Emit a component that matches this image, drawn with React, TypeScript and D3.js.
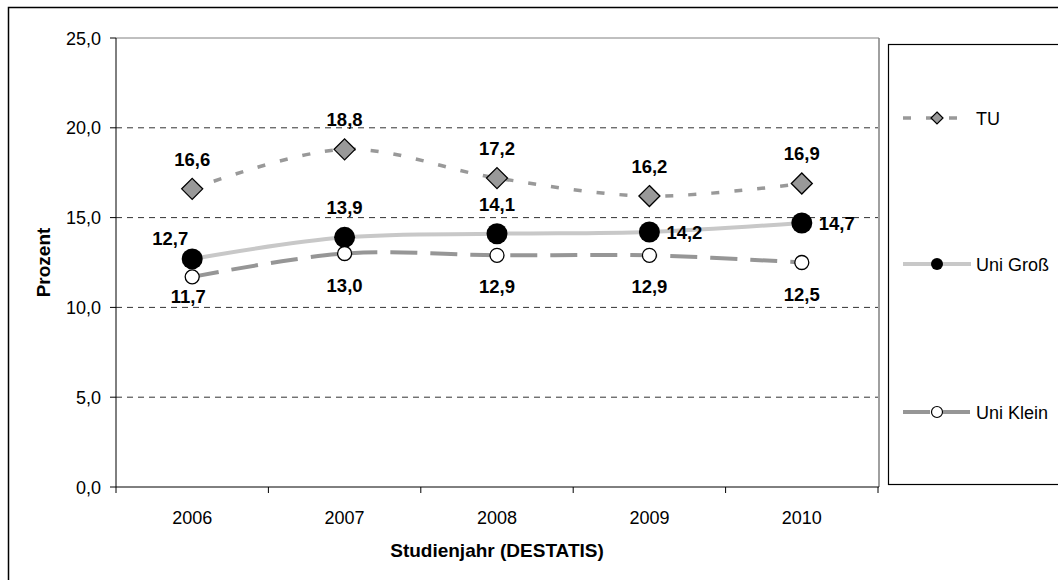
import React from "react";
import * as d3 from "d3";

const years = ["2006", "2007", "2008", "2009", "2010"];
const tuValues = [16.6, 18.8, 17.2, 16.2, 16.9];
const grossValues = [12.7, 13.9, 14.1, 14.2, 14.7];
const kleinValues = [11.7, 13.0, 12.9, 12.9, 12.5];
const yTicks = [0, 5, 10, 15, 20, 25];
const seriesNames = ["TU", "Uni Groß", "Uni Klein"];

// label placement names per point (layout, not data)
const tuPlace = ["above", "above", "above", "above", "above"];
const grossPlace = ["aboveLeft", "above", "above", "right", "right"];
const kleinPlace = ["belowNear", "below", "below", "below", "below"];

const W = 1058;
const H = 580;
const FONT = "'Liberation Sans', Arial, sans-serif";
const fmt = (v: number) => v.toFixed(1).replace(".", ",");

export default function App() {
  const x = d3.scaleBand<string>().domain(years).range([116, 878]);
  const y = d3.scaleLinear().domain([0, 25]).range([487, 38]);
  const cx = (yr: string) => (x(yr) as number) + x.bandwidth() / 2;

  const line = d3
    .line<number>()
    .x((_, i) => cx(years[i]))
    .y((v) => y(v))
    .curve(d3.curveCatmullRom.alpha(0.5));

  const labelProps = (place: string, px: number, py: number) => {
    switch (place) {
      case "above":
        return { x: px, y: py - 23, anchor: "middle" };
      case "aboveLeft":
        return { x: px - 4, y: py - 14, anchor: "end" };
      case "right":
        return { x: px + 17, y: py + 7, anchor: "start" };
      case "belowNear":
        return { x: px - 4, y: py + 26, anchor: "middle" };
      default:
        return { x: px, y: py + 38, anchor: "middle" };
    }
  };

  const renderLabels = (vals: number[], places: string[]) =>
    vals.map((v, i) => {
      const p = labelProps(places[i], cx(years[i]), y(v));
      return (
        <text
          key={i}
          x={p.x}
          y={p.y}
          textAnchor={p.anchor as any}
          fontSize={18.5}
          fontWeight="bold"
          fill="#000"
        >
          {fmt(v)}
        </text>
      );
    });

  const diamond = (px: number, py: number, r: number) =>
    `M${px},${py - r}L${px + r},${py}L${px},${py + r}L${px - r},${py}Z`;

  const legendY = [118, 264, 412];
  const lx0 = 903;
  const lx1 = 971;
  const lmx = 937;

  return (
    <svg
      width={W}
      height={H}
      style={{ position: "absolute", left: 0, top: 0, background: "#fff" }}
      fontFamily={FONT}
    >
      <rect x={0} y={0} width={W} height={H} fill="#fff" />
      <rect x={8.5} y={7.5} width={1060} height={600} fill="none" stroke="#000" strokeWidth={1.5} />

      {/* gridlines */}
      {yTicks
        .filter((t) => t > 0 && t < 25)
        .map((t) => (
          <line
            key={t}
            x1={116}
            x2={878}
            y1={y(t)}
            y2={y(t)}
            stroke="#333"
            strokeWidth={1}
            strokeDasharray="6,5"
          />
        ))}
      {/* plot border top & right */}
      <line x1={116} x2={879} y1={y(25)} y2={y(25)} stroke="#808080" strokeWidth={1} />
      <line x1={879} x2={879} y1={y(25)} y2={y(0)} stroke="#808080" strokeWidth={1.5} />

      {/* y axis */}
      <line x1={116} x2={116} y1={y(25)} y2={y(0)} stroke="#000" strokeWidth={1} />
      {yTicks.map((t) => (
        <g key={t}>
          <line x1={110} x2={116} y1={y(t)} y2={y(t)} stroke="#000" />
          <text x={101} y={y(t) + 6.5} textAnchor="end" fontSize={18} fill="#000">
            {fmt(t)}
          </text>
        </g>
      ))}
      {/* x axis */}
      <line x1={116} x2={879} y1={y(0)} y2={y(0)} stroke="#000" strokeWidth={1} />
      {years.concat([""]).map((yr, i) => {
        const xx = i < years.length ? (x(yr) as number) : 878;
        return <line key={"t" + i} x1={xx} x2={xx} y1={y(0)} y2={y(0) + 6} stroke="#000" />;
      })}
      {years.map((yr) => (
        <text key={yr} x={cx(yr)} y={524} textAnchor="middle" fontSize={18} fill="#000">
          {yr}
        </text>
      ))}
      <text x={497} y={557} textAnchor="middle" fontSize={19} fontWeight="bold">
        Studienjahr (DESTATIS)
      </text>
      <text
        transform={`translate(50,${(y(0) + y(25)) / 2}) rotate(-90)`}
        textAnchor="middle"
        fontSize={19}
        fontWeight="bold"
      >
        Prozent
      </text>

      {/* TU */}
      <path d={line(tuValues) || ""} fill="none" stroke="#999" strokeWidth={3.5} strokeDasharray="8,15" />
      {tuValues.map((v, i) => (
        <path key={i} d={diamond(cx(years[i]), y(v), 10.5)} fill="#999" stroke="#000" strokeWidth={1.3} />
      ))}
      {/* Uni Groß */}
      <path d={line(grossValues) || ""} fill="none" stroke="#c8c8c8" strokeWidth={4} />
      {grossValues.map((v, i) => (
        <circle key={i} cx={cx(years[i])} cy={y(v)} r={10.5} fill="#000" />
      ))}
      {/* Uni Klein */}
      <path d={line(kleinValues) || ""} fill="none" stroke="#969696" strokeWidth={4} strokeDasharray="27,13" />
      {kleinValues.map((v, i) => (
        <circle key={i} cx={cx(years[i])} cy={y(v)} r={7} fill="#fff" stroke="#000" strokeWidth={1.3} />
      ))}

      {renderLabels(tuValues, tuPlace)}
      {renderLabels(grossValues, grossPlace)}
      {renderLabels(kleinValues, kleinPlace)}

      {/* legend */}
      <rect x={888.5} y={44.5} width={180} height={440} fill="#fff" stroke="#000" strokeWidth={1.2} />
      <line x1={lx0} x2={lx1} y1={legendY[0]} y2={legendY[0]} stroke="#999" strokeWidth={3.5} strokeDasharray="8,15" />
      <path d={diamond(lmx, legendY[0], 6)} fill="#999" stroke="#000" strokeWidth={1.2} />
      <line x1={lx0} x2={lx1} y1={legendY[1]} y2={legendY[1]} stroke="#c8c8c8" strokeWidth={4} />
      <circle cx={lmx} cy={legendY[1]} r={6} fill="#000" />
      <line x1={lx0} x2={lx1} y1={legendY[2]} y2={legendY[2]} stroke="#969696" strokeWidth={4} strokeDasharray="27,13" />
      <circle cx={lmx} cy={legendY[2]} r={5.5} fill="#fff" stroke="#000" strokeWidth={1.2} />
      {seriesNames.map((n, i) => (
        <text key={n} x={976} y={legendY[i] + 6.5} fontSize={18} fill="#000">
          {n}
        </text>
      ))}
    </svg>
  );
}
